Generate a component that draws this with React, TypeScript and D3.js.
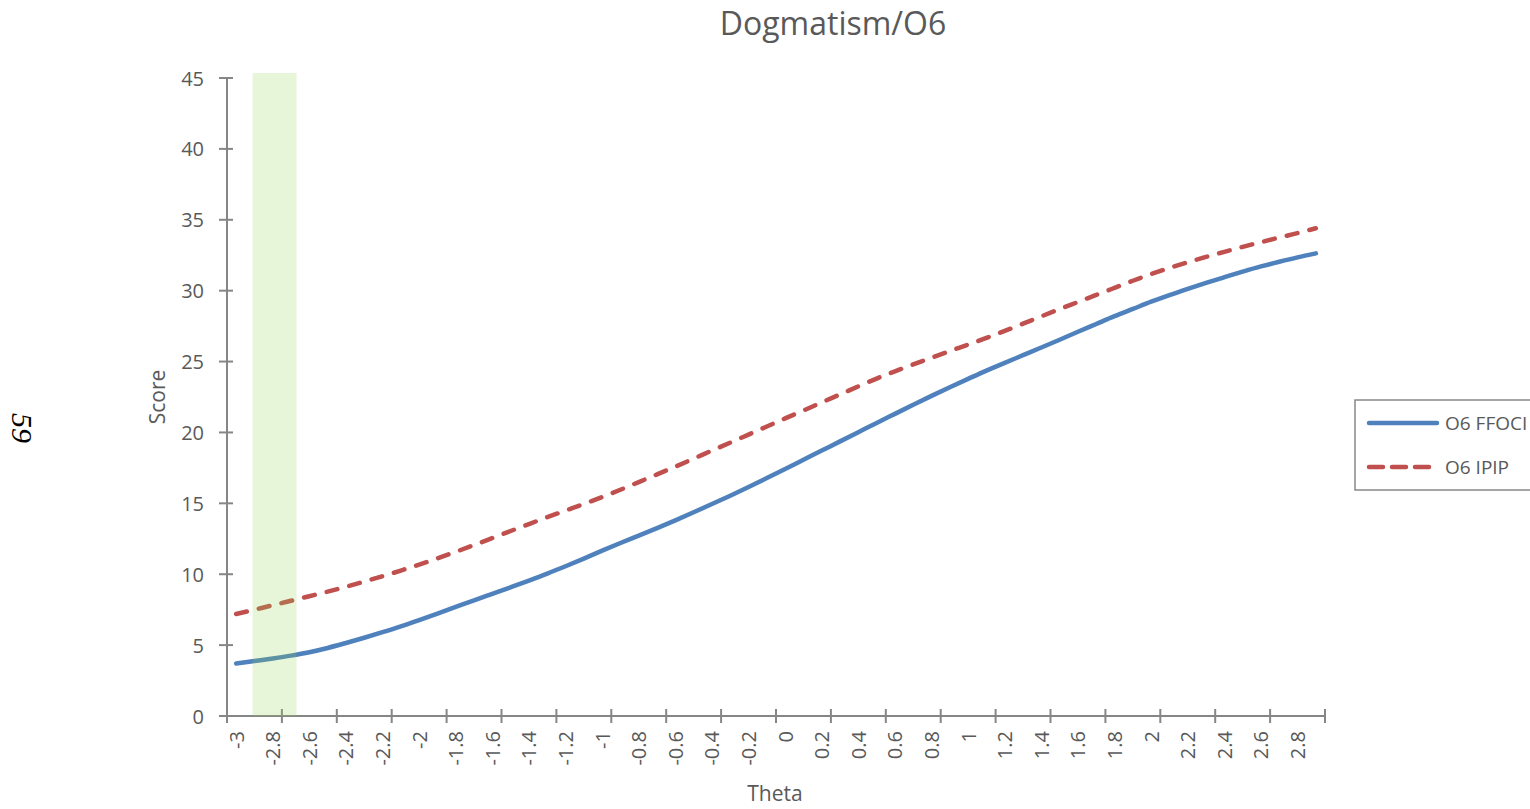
import React from "react";
import * as d3 from "d3";

// theta categories -3 .. 2.9, step 0.1
const thetas: number[] = d3.range(60).map((i) => Math.round((-3 + i * 0.1) * 10) / 10);

const ffoci: number[] = [
  3.7, 3.88, 4.06, 4.26, 4.5, 4.8, 5.15, 5.52, 5.91, 6.32,
  6.76, 7.22, 7.69, 8.16, 8.62, 9.08, 9.55, 10.04, 10.56, 11.1,
  11.66, 12.2, 12.72, 13.25, 13.8, 14.37, 14.95, 15.54, 16.15, 16.78,
  17.42, 18.07, 18.72, 19.37, 20.02, 20.67, 21.31, 21.95, 22.58, 23.19,
  23.78, 24.36, 24.91, 25.45, 25.99, 26.54, 27.1, 27.65, 28.2, 28.71,
  29.22, 29.69, 30.13, 30.55, 30.95, 31.34, 31.71, 32.04, 32.35, 32.63,
];

const ipip: number[] = [
  7.19, 7.5, 7.81, 8.13, 8.45, 8.77, 9.11, 9.48, 9.86, 10.26,
  10.68, 11.12, 11.58, 12.06, 12.55, 13.05, 13.54, 14.02, 14.49, 14.96,
  15.44, 15.96, 16.5, 17.04, 17.59, 18.15, 18.72, 19.28, 19.85, 20.42,
  20.99, 21.55, 22.12, 22.68, 23.25, 23.8, 24.31, 24.8, 25.27, 25.74,
  26.2, 26.67, 27.16, 27.67, 28.19, 28.7, 29.2, 29.7, 30.2, 30.7,
  31.17, 31.6, 32.0, 32.38, 32.74, 33.09, 33.42, 33.75, 34.06, 34.4,
];

const yTicks: number[] = [0, 5, 10, 15, 20, 25, 30, 35, 40, 45];
const highlight: number[] = [-2.91, -2.67];
const seriesNames = ["O6 FFOCI", "O6 IPIP"];

const FONT = "'Open Sans', sans-serif";
const AXIS = "#868686";
const TEXT = "#595959";
const BLUE = "#4F81BD";
const RED = "#C0504D";

export default function App() {
  const left = 227, right = 1325, top = 78, bottom = 716;
  const step = 0.1;
  const x = d3.scaleLinear().domain([thetas[0] - step / 2, thetas[thetas.length - 1] + step / 2]).range([left, right]);
  const y = d3.scaleLinear().domain([0, 45]).range([bottom, top]);

  const line = d3
    .line<number>()
    .x((_, i) => x(thetas[i]))
    .y((d) => y(d))
    .curve(d3.curveMonotoneX);

  // tick marks every 3 categories, labels every 2
  const tickPos = d3.range(0, thetas.length + 1, 3).map((k) => thetas[0] - step / 2 + k * step);
  const labelled = thetas.filter((_, i) => i % 2 === 0);

  return (
    <svg width={1530} height={809} style={{ position: "absolute", left: 0, top: 0, background: "#fff" }}>
      <text x={833} y={35} textAnchor="middle" fontFamily={FONT} fontSize={32} fill={TEXT}>
        Dogmatism/O6
      </text>

      <text
        transform="translate(22,428) rotate(90)"
        textAnchor="middle"
        dominantBaseline="central"
        fontFamily="'Liberation Serif', serif"
        fontStyle="italic"
        fontSize={30}
        fill="#000"
      >
        59
      </text>

      {/* y axis */}
      <line x1={left} x2={left} y1={y(45)} y2={bottom} stroke={AXIS} strokeWidth={2} />
      {yTicks.map((t) => (
        <g key={t}>
          <line x1={left - 8} x2={left + 6} y1={y(t)} y2={y(t)} stroke={AXIS} strokeWidth={2} />
          <text x={204} y={y(t)} textAnchor="end" dominantBaseline="central" fontFamily={FONT} fontSize={20} fill={TEXT}>
            {t}
          </text>
        </g>
      ))}
      <text
        transform={`translate(157,${(top + bottom) / 2}) rotate(-90)`}
        textAnchor="middle"
        dominantBaseline="central"
        fontFamily={FONT}
        fontSize={21}
        fill={TEXT}
      >
        Score
      </text>

      {/* x axis */}
      <line x1={left - 8} x2={right} y1={bottom} y2={bottom} stroke={AXIS} strokeWidth={2} />
      {tickPos.map((p, i) => (
        <line key={i} x1={x(p)} x2={x(p)} y1={bottom - 7} y2={bottom + 7} stroke={AXIS} strokeWidth={2} />
      ))}
      {labelled.map((t) => (
        <text
          key={t}
          transform={`translate(${x(t)},731) rotate(-90)`}
          textAnchor="end"
          dominantBaseline="central"
          fontFamily={FONT}
          fontSize={20}
          fill={TEXT}
        >
          {String(t)}
        </text>
      ))}
      <text x={775} y={801} textAnchor="middle" fontFamily={FONT} fontSize={21} fill={TEXT}>
        Theta
      </text>

      {/* series */}
      <path d={line(ffoci) ?? ""} fill="none" stroke={BLUE} strokeWidth={4.5} strokeLinecap="round" />
      <path
        d={line(ipip) ?? ""}
        fill="none"
        stroke={RED}
        strokeWidth={4.5}
        strokeLinecap="round"
        strokeDasharray="11 12.3"
      />

      {/* highlight band */}
      <rect
        x={x(highlight[0])}
        y={y(45.35)}
        width={x(highlight[1]) - x(highlight[0])}
        height={bottom - y(45.35)}
        fill="#92D050"
        fillOpacity={0.22}
      />

      {/* legend */}
      <rect x={1355} y={400} width={200} height={90} fill="#fff" stroke="#888" strokeWidth={1.5} />
      <line x1={1369} x2={1437} y1={423} y2={423} stroke={BLUE} strokeWidth={4.5} strokeLinecap="round" />
      <line x1={1369} x2={1434} y1={467} y2={467} stroke={RED} strokeWidth={4.5} strokeLinecap="round" strokeDasharray="14 9" />
      {seriesNames.map((n, i) => (
        <text key={n} x={1445} y={423 + i * 44} dominantBaseline="central" fontFamily={FONT} fontSize={19} fill={TEXT}>
          {n}
        </text>
      ))}
    </svg>
  );
}
